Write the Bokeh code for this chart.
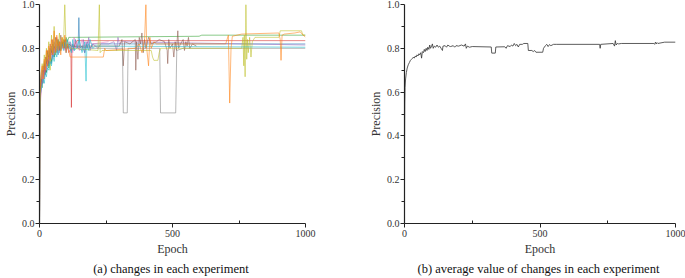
from bokeh.plotting import figure
from bokeh.layouts import row
from bokeh.models import Title, FixedTicker, Range1d, NumeralTickFormatter
from bokeh.embed import file_html
from bokeh.resources import INLINE

# ---------------- data: panel (a) ----------------
EARLY_EPOCHS = [0, 1, 3, 6, 10, 14, 18, 22, 26, 30, 35, 40, 45, 50, 55, 60, 65, 70, 75, 80, 85, 90, 95, 100, 105, 110]

blue_early = [0.0, 0.42, 0.58, 0.62, 0.66, 0.70, 0.67, 0.73, 0.69, 0.75, 0.72, 0.78, 0.73, 0.80, 0.76, 0.79, 0.82, 0.77, 0.81, 0.79, 0.83, 0.80, 0.82, 0.78, 0.81, 0.80]
blue_late_e = [115, 120, 125, 130, 135, 140, 145, 148, 151, 160, 170, 180, 190, 200, 1000]
blue_late_v = [0.83, 0.79, 0.82, 0.79, 0.84, 0.81, 0.80, 0.94, 0.80, 0.81, 0.78, 0.83, 0.80, 0.82, 0.82]

orange_early = [0.0, 0.50, 0.62, 0.68, 0.72, 0.66, 0.75, 0.70, 0.79, 0.72, 0.81, 0.75, 0.84, 0.77, 0.88, 0.78, 0.86, 0.79, 0.83, 0.77, 0.85, 0.80, 0.86, 0.78, 0.82, 0.79]
orange_late_e = [115, 240, 245, 250, 360, 375, 385, 395, 400, 403, 410, 415, 420, 430, 440, 700, 710, 715, 720, 725, 760, 900, 905, 908, 912, 920, 960, 980, 1000]
orange_late_v = [0.76, 0.76, 0.80, 0.79, 0.80, 0.82, 0.78, 0.84, 1.00, 0.80, 0.72, 0.85, 0.80, 0.83, 0.82, 0.82, 0.86, 0.55, 0.80, 0.855, 0.865, 0.87, 0.84, 0.745, 0.86, 0.865, 0.87, 0.875, 0.85]

green_early = [0.0, 0.45, 0.60, 0.64, 0.62, 0.68, 0.66, 0.70, 0.69, 0.73, 0.71, 0.76, 0.74, 0.78, 0.76, 0.80, 0.78, 0.82, 0.80, 0.83, 0.81, 0.84, 0.82, 0.85, 0.83, 0.85]
green_late_e = [120, 600, 610, 1000]
green_late_v = [0.85, 0.855, 0.86, 0.86]

red_early = [0.0, 0.40, 0.55, 0.65, 0.70, 0.72, 0.68, 0.76, 0.73, 0.79, 0.75, 0.82, 0.78, 0.84, 0.79, 0.81, 0.85, 0.80, 0.83, 0.79, 0.82, 0.81, 0.84, 0.80, 0.82, 0.78]
red_late_e = [118, 120, 122, 140, 1000]
red_late_v = [0.80, 0.53, 0.79, 0.835, 0.835]

purple_early = [0.0, 0.38, 0.57, 0.63, 0.67, 0.64, 0.71, 0.69, 0.74, 0.72, 0.77, 0.74, 0.79, 0.76, 0.81, 0.78, 0.80, 0.83, 0.79, 0.82, 0.80, 0.83, 0.81, 0.79, 0.82, 0.80]
purple_late_e = [130, 160, 165, 170, 175, 180, 185, 190, 200, 220, 230, 260, 280, 290, 295, 300, 310, 1000]
purple_late_v = [0.81, 0.79, 0.84, 0.78, 0.83, 0.80, 0.85, 0.79, 0.82, 0.80, 0.82, 0.82, 0.83, 0.79, 0.85, 0.82, 0.83, 0.815]

brown_early = [0.0, 0.44, 0.61, 0.66, 0.64, 0.70, 0.73, 0.68, 0.75, 0.78, 0.73, 0.80, 0.77, 0.82, 0.78, 0.85, 0.80, 0.84, 0.79, 0.86, 0.81, 0.83, 0.80, 0.84, 0.81, 0.82]
brown_late_e = [120, 300, 310, 315, 320, 340, 360, 362, 365, 370, 375, 380, 385, 390, 395, 400, 410, 420, 440, 450, 470, 480, 482, 486, 490, 500, 505, 510, 515, 520, 523, 530, 540, 545, 550, 555, 560, 565, 575, 590]
brown_late_v = [0.81, 0.81, 0.84, 0.72, 0.83, 0.82, 0.84, 0.70, 0.83, 0.75, 0.85, 0.82, 0.87, 0.78, 0.84, 0.80, 0.85, 0.82, 0.83, 0.84, 0.83, 0.79, 0.73, 0.84, 0.80, 0.82, 0.76, 0.83, 0.79, 0.88, 0.80, 0.82, 0.84, 0.79, 0.83, 0.81, 0.85, 0.80, 0.82, 0.81]

pink_early = [0.0, 0.36, 0.54, 0.60, 0.65, 0.69, 0.66, 0.72, 0.70, 0.74, 0.76, 0.73, 0.78, 0.75, 0.80, 0.77, 0.82, 0.78, 0.81, 0.84, 0.80, 0.82, 0.79, 0.83, 0.81, 0.83]
pink_late_e = [120, 125, 130, 135, 140, 150, 160, 170, 180, 200, 260]
pink_late_v = [0.82, 0.78, 0.85, 0.80, 0.83, 0.79, 0.84, 0.81, 0.83, 0.82, 0.83]

gray_early = [0.0, 0.47, 0.63, 0.67, 0.70, 0.68, 0.74, 0.71, 0.76, 0.74, 0.79, 0.76, 0.81, 0.78, 0.83, 0.80, 0.79, 0.84, 0.81, 0.80, 0.83, 0.81, 0.80, 0.82, 0.80, 0.81]
gray_late_e = [120, 200, 312, 315, 330, 333, 452, 455, 512, 516, 540, 1000]
gray_late_v = [0.81, 0.80, 0.80, 0.505, 0.505, 0.80, 0.80, 0.505, 0.505, 0.79, 0.80, 0.80]

olive_early = [0.0, 0.48, 0.64, 0.69, 0.73, 0.70, 0.77, 0.72, 0.80, 0.75, 0.83, 0.70, 0.86, 0.78, 0.90, 0.77, 0.84, 0.80, 0.87, 0.79, 0.85, 0.81, 1.00, 0.80, 0.83, 0.81]
olive_late_e = [120, 220, 225, 228, 235, 330, 420, 425, 430, 445, 450, 455, 760, 765, 768, 770, 773, 776, 779, 782, 785, 790, 795, 800, 810, 900, 905, 985, 990, 1000]
olive_late_v = [0.80, 0.79, 1.00, 0.78, 0.79, 0.79, 0.79, 0.76, 0.745, 0.745, 0.78, 0.80, 0.80, 0.85, 0.72, 0.86, 0.67, 1.00, 0.75, 0.84, 0.78, 0.85, 0.76, 0.83, 0.85, 0.85, 0.88, 0.88, 0.86, 0.86]

cyan_early = [0.0, 0.43, 0.59, 0.61, 0.63, 0.66, 0.64, 0.69, 0.67, 0.71, 0.70, 0.74, 0.72, 0.77, 0.74, 0.79, 0.76, 0.81, 0.78, 0.80, 0.82, 0.79, 0.83, 0.80, 0.84, 0.81]
cyan_late_e = [120, 125, 130, 140, 150, 160, 170, 175, 178, 185, 190, 200, 210, 1000]
cyan_late_v = [0.78, 0.84, 0.79, 0.80, 0.84, 0.78, 0.83, 0.65, 0.82, 0.79, 0.84, 0.80, 0.81, 0.805]

SERIES = [
    ("#1f77b4", blue_early, blue_late_e, blue_late_v),
    ("#2ca02c", green_early, green_late_e, green_late_v),
    ("#d62728", red_early, red_late_e, red_late_v),
    ("#9467bd", purple_early, purple_late_e, purple_late_v),
    ("#8c564b", brown_early, brown_late_e, brown_late_v),
    ("#e377c2", pink_early, pink_late_e, pink_late_v),
    ("#7f7f7f", gray_early, gray_late_e, gray_late_v),
    ("#bcbd22", olive_early, olive_late_e, olive_late_v),
    ("#17becf", cyan_early, cyan_late_e, cyan_late_v),
    ("#ff7f0e", orange_early, orange_late_e, orange_late_v),
]

# ---------------- data: panel (b) ----------------
avg_epochs = [0, 1, 2, 4, 7, 10, 14, 18, 22, 26, 30, 33, 36, 40, 43, 46, 50, 53, 56, 60, 63, 66, 70, 73, 76, 80, 83, 86, 90, 93, 96,
              100, 103, 106, 110, 115, 120, 125, 130, 135, 140, 142, 150, 155, 160, 165, 170, 180, 185, 190, 200, 210, 220, 225, 228,
              232, 240, 250, 320, 322, 335, 337, 370, 375, 380, 390, 395, 400, 405, 410, 415, 420, 425, 435, 440, 455, 457, 470, 475,
              480, 485, 510, 513, 520, 525, 530, 535, 540, 550, 560, 720, 722, 724, 770, 775, 778, 781, 785, 790, 800, 920, 923, 926,
              929, 932, 935, 960, 1000]
avg_values = [0.33, 0.55, 0.62, 0.66, 0.69, 0.71, 0.725, 0.735, 0.745, 0.75, 0.755, 0.76, 0.755, 0.765, 0.76, 0.77, 0.765, 0.775, 0.77,
              0.78, 0.755, 0.785, 0.78, 0.795, 0.785, 0.80, 0.79, 0.805, 0.795, 0.815, 0.80, 0.81, 0.82, 0.80, 0.81, 0.805, 0.815,
              0.805, 0.81, 0.80, 0.79, 0.81, 0.812, 0.805, 0.815, 0.81, 0.808, 0.812, 0.805, 0.812, 0.81, 0.815, 0.81, 0.82, 0.80,
              0.81, 0.805, 0.808, 0.806, 0.778, 0.778, 0.806, 0.807, 0.80, 0.812, 0.808, 0.815, 0.81, 0.822, 0.812, 0.818, 0.806,
              0.818, 0.818, 0.822, 0.822, 0.79, 0.79, 0.785, 0.79, 0.782, 0.782, 0.80, 0.812, 0.818, 0.808, 0.817, 0.812, 0.818,
              0.818, 0.818, 0.80, 0.818, 0.822, 0.81, 0.835, 0.815, 0.822, 0.82, 0.822, 0.822, 0.818, 0.828, 0.82, 0.826, 0.822,
              0.828, 0.828]

X_TICKS = [0, 500, 1000]
X_MINOR = [250, 750]
Y_TICKS = [0.0, 0.2, 0.4, 0.6, 0.8, 1.0]
Y_MINOR = [0.1, 0.3, 0.5, 0.7, 0.9]

TICK_FONT = "Liberation Serif"
FIG_H = 277


def make_fig(width, bl, br, caption):
    p = figure(width=width, height=FIG_H, output_backend="svg", toolbar_location=None,
               x_range=Range1d(0, 1000), y_range=Range1d(0, 1),
               min_border_left=bl, min_border_right=br, min_border_top=4, min_border_bottom=50)
    p.outline_line_color = None
    p.grid.visible = False
    p.xaxis.ticker = FixedTicker(ticks=X_TICKS, minor_ticks=X_MINOR)
    p.yaxis.ticker = FixedTicker(ticks=Y_TICKS, minor_ticks=Y_MINOR)
    p.yaxis.formatter = NumeralTickFormatter(format="0.0")
    for ax in (p.xaxis[0], p.yaxis[0]):
        ax.axis_line_color = "#222222"
        ax.axis_line_width = 1.2
        ax.major_tick_line_color = "#222222"
        ax.minor_tick_line_color = "#222222"
        ax.major_tick_out = 4
        ax.major_tick_in = 0
        ax.major_label_text_font = TICK_FONT
        ax.major_label_text_font_size = "10px"
        ax.major_label_text_color = "#333333"
        ax.major_label_standoff = 2
        ax.axis_label_text_font = TICK_FONT
        ax.axis_label_text_font_size = "12px"
        ax.axis_label_text_font_style = "normal"
        ax.axis_label_text_color = "#333333"
        ax.axis_label_standoff = 2
    p.yaxis.major_label_standoff = 1
    p.yaxis.axis_label_standoff = 1
    p.xaxis.minor_tick_in = 3
    p.xaxis.minor_tick_out = 0
    p.yaxis.minor_tick_in = 0
    p.yaxis.minor_tick_out = 3
    p.xaxis.axis_label = "Epoch"
    p.yaxis.axis_label = "Precision"
    t = Title(text=caption, align="center", text_font="Liberation Serif", text_font_size="12.5px",
              text_font_style="normal", text_color="#111111", standoff=3)
    p.add_layout(t, "below")
    return p


p1 = make_fig(340, 35, 35, "(a)  changes in each experiment")
for color, early, late_e, late_v in SERIES:
    p1.line(EARLY_EPOCHS + late_e, early + late_v, line_color=color, line_width=0.9, line_alpha=0.62)

p2 = make_fig(345, 64, 10, "(b)  average value of changes in each experiment")
p2.line(avg_epochs, avg_values, line_color="#333333", line_width=0.8)

layout = row(p1, p2)
open("out.html", "w").write(file_html(layout, INLINE))
